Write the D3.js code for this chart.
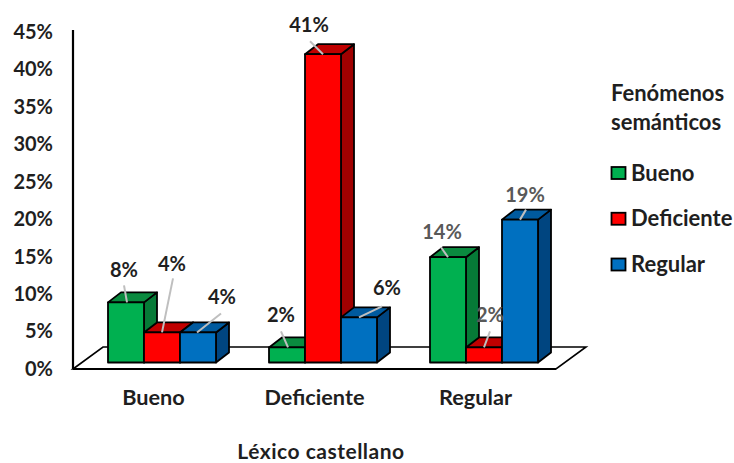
<!DOCTYPE html>
<html lang="es">
<head>
<meta charset="utf-8">
<script src="https://cdn.jsdelivr.net/npm/d3@7"></script>
<style>
  html, body { margin: 0; background: #fff; }
  svg { display: block; }
  text { font-family: Lato, "Open Sans", sans-serif; font-weight: 700; fill: #1f1f1f; }
</style>
</head>
<body>
<svg id="chart" width="734" height="463"></svg>
<script>
const categories = ["Bueno", "Deficiente", "Regular"];
const seriesNames = ["Bueno", "Deficiente", "Regular"];
const buenoValues = [8, 2, 14];
const deficienteValues = [4, 41, 2];
const regularValues = [4, 6, 19];
const yTicks = [0, 5, 10, 15, 20, 25, 30, 35, 40, 45];
const frontColors = ["#00b050", "#ff0000", "#0070c0"];
const topColors = ["#0a8a3f", "#c00000", "#005a9e"];
const sideColors = ["#067a37", "#a00000", "#004580"];

const seriesValues = [buenoValues, deficienteValues, regularValues];

// Layout of the pseudo-3D plot box
const left = 73, floorRight = 556, floorFront = 369;
const depthX = 13, depthY = 10;
const barBase = 362.5, barShift = 8.5;

const svg = d3.select("#chart");

const x0 = d3.scaleBand().domain(categories).range([left, floorRight]);
const x1 = d3.scaleBand().domain(seriesNames).range([-54, 54]);
const yAxisScale = d3.scaleLinear().domain([0, 45]).range([floorFront, 32]);
const yBar = d3.scaleLinear().domain([0, 45]).range([barBase, barBase - 45 * 7.52]);

// Floor parallelogram
svg.append("path")
  .attr("d", d3.line()([[left, floorFront], [103, 347], [586, 347], [floorRight, floorFront]]) + "Z")
  .attr("fill", "#fff").attr("stroke", "#000").attr("stroke-width", 1.6);

// Vertical axis line and heavier front floor edge
svg.append("line").attr("x1", left).attr("x2", left).attr("y1", 30).attr("y2", floorFront)
  .attr("stroke", "#000").attr("stroke-width", 2.2);
svg.append("line").attr("x1", left).attr("x2", floorRight).attr("y1", floorFront).attr("y2", floorFront)
  .attr("stroke", "#000").attr("stroke-width", 1.8);

// Y axis labels
const yAxis = svg.append("g")
  .attr("transform", `translate(${left - 20},0)`)
  .call(d3.axisLeft(yAxisScale).tickValues(yTicks).tickSize(0).tickPadding(0).tickFormat(d => d + "%"));
yAxis.select(".domain").remove();
yAxis.selectAll("text").style("font-size", "20px").style("font-family", "Lato, sans-serif").attr("fill", "#1f1f1f");

// X axis labels
const xAxis = svg.append("g")
  .attr("transform", `translate(0,${floorFront})`)
  .call(d3.axisBottom(x0).tickSize(0).tickPadding(21));
xAxis.select(".domain").remove();
xAxis.selectAll("text").style("font-size", "21.7px").style("font-family", "Lato, sans-serif").attr("fill", "#1f1f1f");

// Bars, drawn series by series so nearer faces overlap correctly
const barData = [];
categories.forEach((c, ci) => seriesNames.forEach((s, si) => {
  barData.push({ category: c, series: s, ci, si, value: seriesValues[si][ci] });
}));

const bw = x1.bandwidth();
const barX = d => x0(d.category) + x0.bandwidth() / 2 + barShift + x1(d.series);

const bars = svg.append("g").selectAll("g").data(barData).join("g")
  .attr("stroke", "#000").attr("stroke-width", 1.8).attr("stroke-linejoin", "round");

bars.append("path").attr("fill", d => sideColors[d.si]).attr("d", d => {
  const r = barX(d) + bw, t = yBar(d.value);
  return `M${r},${t}L${r + depthX},${t - depthY}L${r + depthX},${barBase - depthY}L${r},${barBase}Z`;
});
bars.append("path").attr("fill", d => topColors[d.si]).attr("d", d => {
  const l = barX(d), t = yBar(d.value);
  return `M${l},${t}L${l + depthX},${t - depthY}L${l + bw + depthX},${t - depthY}L${l + bw},${t}Z`;
});
bars.append("rect").attr("fill", d => frontColors[d.si])
  .attr("x", barX).attr("y", d => yBar(d.value))
  .attr("width", bw).attr("height", d => barBase - yBar(d.value));

// Data labels with leader lines: label centre, leader start, leader end relative to the bar's top front edge
const labelLayout = [
  { lx: -2,  ly: -33, sx: -2,  sy: -17, ex: 1,  ey: 0, grey: false },
  { lx: 10,  ly: -69, sx: 11,  sy: -54, ex: 0,  ey: 0, grey: false },
  { lx: 24,  ly: -36, sx: 23,  sy: -19, ex: -1, ey: 0, grey: false },
  { lx: -6,  ly: -33, sx: -6,  sy: -16, ex: 1,  ey: 0, grey: false },
  { lx: -14, ly: -30, sx: -13, sy: -13, ex: 0,  ey: 0, grey: false },
  { lx: 28,  ly: -30, sx: 23,  sy: -11, ex: 0,  ey: 0, grey: false },
  { lx: -6,  ly: -26, sx: -7,  sy: -10, ex: 0,  ey: 0, grey: true },
  { lx: 6,   ly: -33, sx: 6,   sy: -16, ex: 0,  ey: 0, grey: true },
  { lx: 5,   ly: -26, sx: 6,   sy: -10, ex: 0,  ey: 0, grey: true }
];

const labels = svg.append("g").selectAll("g").data(barData).join("g")
  .attr("transform", d => `translate(${barX(d) + bw / 2},${yBar(d.value)})`);
labels.append("line")
  .attr("x1", (d, i) => labelLayout[i].sx).attr("y1", (d, i) => labelLayout[i].sy)
  .attr("x2", (d, i) => labelLayout[i].ex).attr("y2", (d, i) => labelLayout[i].ey)
  .attr("stroke", "#bfbfbf").attr("stroke-width", 2);
labels.append("text")
  .attr("x", (d, i) => labelLayout[i].lx).attr("y", (d, i) => labelLayout[i].ly)
  .attr("text-anchor", "middle").attr("dominant-baseline", "central")
  .style("font-size", "20px")
  .style("fill", (d, i) => labelLayout[i].grey ? "#595959" : "#1f1f1f")
  .text(d => d.value + "%");

// Horizontal axis title
svg.append("text").attr("x", 321).attr("y", 458.5).attr("text-anchor", "middle")
  .style("font-size", "21px").style("letter-spacing", "0.5px").text("Léxico castellano");

// Legend
const legendTitle = svg.append("g");
legendTitle.append("text").attr("x", 611).attr("y", 101).style("font-size", "22px").text("Fenómenos");
legendTitle.append("text").attr("x", 611).attr("y", 130).style("font-size", "22px").text("semánticos");

const legendY = d3.scalePoint().domain(seriesNames).range([173, 264.5]);
const legend = svg.append("g").selectAll("g").data(seriesNames).join("g")
  .attr("transform", d => `translate(611,${legendY(d)})`);
legend.append("rect").attr("x", 0.5).attr("y", -6).attr("width", 14).attr("height", 12)
  .attr("fill", (d, i) => frontColors[i]).attr("stroke", "#000").attr("stroke-width", 1.8);
legend.append("text").attr("x", 20).attr("y", 7.5)
  .style("font-size", "22px").text(d => d);
</script>
</body>
</html>
